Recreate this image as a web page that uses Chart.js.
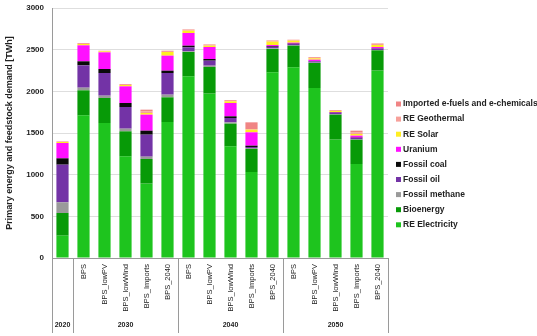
<!DOCTYPE html>
<html>
<head>
<meta charset="utf-8">
<script src="https://cdn.jsdelivr.net/npm/chart.js@4/dist/chart.umd.min.js"></script>
<style>
  html, body { margin: 0; padding: 0; background: #ffffff; }
  #wrap { width: 537px; height: 336px; }
</style>
</head>
<body>
<div id="wrap"><canvas id="c" width="537" height="336"></canvas></div>
<script>
// Scenario labels (one per bar) and the year groups they belong to
const scenarios = ["", "BPS", "BPS_lowPV", "BPS_lowWind", "BPS_Imports", "BPS_2040",
                   "BPS", "BPS_lowPV", "BPS_lowWind", "BPS_Imports", "BPS_2040",
                   "BPS", "BPS_lowPV", "BPS_lowWind", "BPS_Imports", "BPS_2040"];
const years = ["2020", "2030", "2040", "2050"];
const yearSizes = [1, 5, 5, 5];

// Primary energy and feedstock demand by carrier [TWh]
const reElectricity = [268, 1712, 1620, 1220, 892, 1632, 2180, 1972, 1340, 1032, 2228, 2288, 2040, 1420, 1128, 2248];
const bioenergy     = [272, 300, 300, 300, 296, 296, 292, 320, 272, 276, 280, 260, 300, 300, 292, 244];
const fossilMethane = [128, 32, 28, 32, 28, 32, 8, 16, 16, 12, 8, 4, 4, 4, 4, 4];
const fossilOil     = [452, 268, 272, 260, 264, 260, 48, 60, 52, 12, 16, 16, 16, 16, 16, 16];
const fossilCoal    = [76, 48, 48, 48, 48, 28, 20, 20, 20, 16, 8, 4, 4, 4, 4, 4];
const uranium       = [184, 192, 200, 200, 192, 180, 152, 144, 160, 160, 16, 12, 16, 8, 24, 16];
const reSolar       = [12, 16, 12, 16, 20, 44, 28, 16, 20, 32, 40, 24, 16, 12, 20, 24];
const reGeothermal  = [8, 12, 8, 12, 20, 16, 16, 16, 16, 8, 16, 12, 16, 12, 20, 20];
const importedFuels = [0, 0, 0, 0, 20, 0, 0, 0, 0, 80, 0, 0, 0, 0, 20, 0];

const yTicks = [0, 500, 1000, 1500, 2000, 2500, 3000];

const FONT = "'Liberation Sans', Arial, sans-serif";

const series = [
  { label: "RE Electricity", data: reElectricity, color: "#1ec41e" },
  { label: "Bioenergy", data: bioenergy, color: "#079a07" },
  { label: "Fossil methane", data: fossilMethane, color: "#9a9a9a" },
  { label: "Fossil oil", data: fossilOil, color: "#7333a6" },
  { label: "Fossil coal", data: fossilCoal, color: "#0a0a0a" },
  { label: "Uranium", data: uranium, color: "#ff10ff" },
  { label: "RE Solar", data: reSolar, color: "#ffee22" },
  { label: "RE Geothermal", data: reGeothermal, color: "#f7a09a" },
  { label: "Imported e-fuels and e-chemicals", data: importedFuels, color: "#f08484" }
];

// Year group captions and separators under the category axis
const yearGroups = {
  id: "yearGroups",
  afterDraw(chart) {
    const x = chart.scales.x;
    const ctx = chart.ctx;
    const bottom = chart.chartArea.bottom;
    const w = x.width / scenarios.length;
    ctx.save();
    ctx.strokeStyle = "#9a9a9a";
    ctx.lineWidth = 1;
    let idx = 0;
    const edges = [x.getPixelForValue(0) - w / 2];
    years.forEach((yr, g) => {
      const first = idx;
      idx += yearSizes[g];
      const left = x.getPixelForValue(first) - w / 2;
      const right = x.getPixelForValue(idx - 1) + w / 2;
      edges.push(right);
      ctx.fillStyle = "#222";
      ctx.font = "bold 7px " + FONT;
      ctx.textAlign = "center";
      ctx.textBaseline = "middle";
      ctx.fillText(yr, (left + right) / 2, bottom + 67);
    });
    edges.forEach(e => {
      const px = Math.round(e) + 0.5;
      ctx.beginPath();
      ctx.moveTo(px, bottom);
      ctx.lineTo(px, bottom + 75);
      ctx.stroke();
    });
    ctx.restore();
  }
};

// Legend column to the right of the plot, top entry = last stacked series
const sideLegend = {
  id: "sideLegend",
  afterDraw(chart) {
    const ctx = chart.ctx;
    const ds = chart.data.datasets.slice().reverse();
    const step = 15.1;
    const x0 = chart.chartArea.right + 8;
    const y0 = 104;
    ctx.save();
    ctx.font = "bold 8.5px " + FONT;
    ctx.textBaseline = "middle";
    ctx.textAlign = "left";
    ds.forEach((d, i) => {
      const y = y0 + i * step;
      ctx.fillStyle = d.backgroundColor;
      ctx.fillRect(x0, y - 2.5, 5, 5);
      ctx.fillStyle = "#222";
      ctx.fillText(d.label, x0 + 7, y);
    });
    ctx.restore();
  }
};

new Chart(document.getElementById("c"), {
  type: "bar",
  data: {
    labels: scenarios,
    datasets: series.map(s => ({
      label: s.label,
      data: s.data,
      backgroundColor: s.color,
      borderWidth: 0,
      categoryPercentage: 1,
      barPercentage: 0.58
    }))
  },
  options: {
    responsive: false,
    animation: false,
    devicePixelRatio: 1,
    layout: { padding: { top: 8, right: 149, bottom: 0, left: 0 } },
    plugins: {
      legend: { display: false },
      tooltip: { enabled: false }
    },
    scales: {
      x: {
        stacked: true,
        grid: { display: false, drawTicks: false },
        border: { display: true, color: "#9a9a9a", width: 1 },
        ticks: {
          autoSkip: false,
          minRotation: 90,
          maxRotation: 90,
          padding: 6,
          color: "#222",
          font: { family: FONT, size: 7.5 }
        },
        afterFit(s) { s.height = 78; s.paddingLeft = 0; s.paddingRight = 0; }
      },
      y: {
        stacked: true,
        min: 0,
        max: 3000,
        afterBuildTicks(s) { s.ticks = yTicks.map(v => ({ value: v })); },
        grid: { color: "#dedede", lineWidth: 1, drawTicks: false },
        border: { display: true, color: "#9a9a9a", width: 1 },
        ticks: {
          padding: 8,
          color: "#222",
          font: { family: FONT, size: 8, weight: "bold" },
          callback: v => String(v)
        },
        title: {
          display: true,
          text: "Primary energy and feedstock demand [TWh]",
          color: "#222",
          font: { family: FONT, size: 9, weight: "bold" },
          padding: { top: 4, bottom: 0 }
        },
        afterFit(s) { s.width = 52; s.paddingTop = 0; s.paddingBottom = 0; }
      }
    }
  },
  plugins: [yearGroups, sideLegend]
});
</script>
</body>
</html>
